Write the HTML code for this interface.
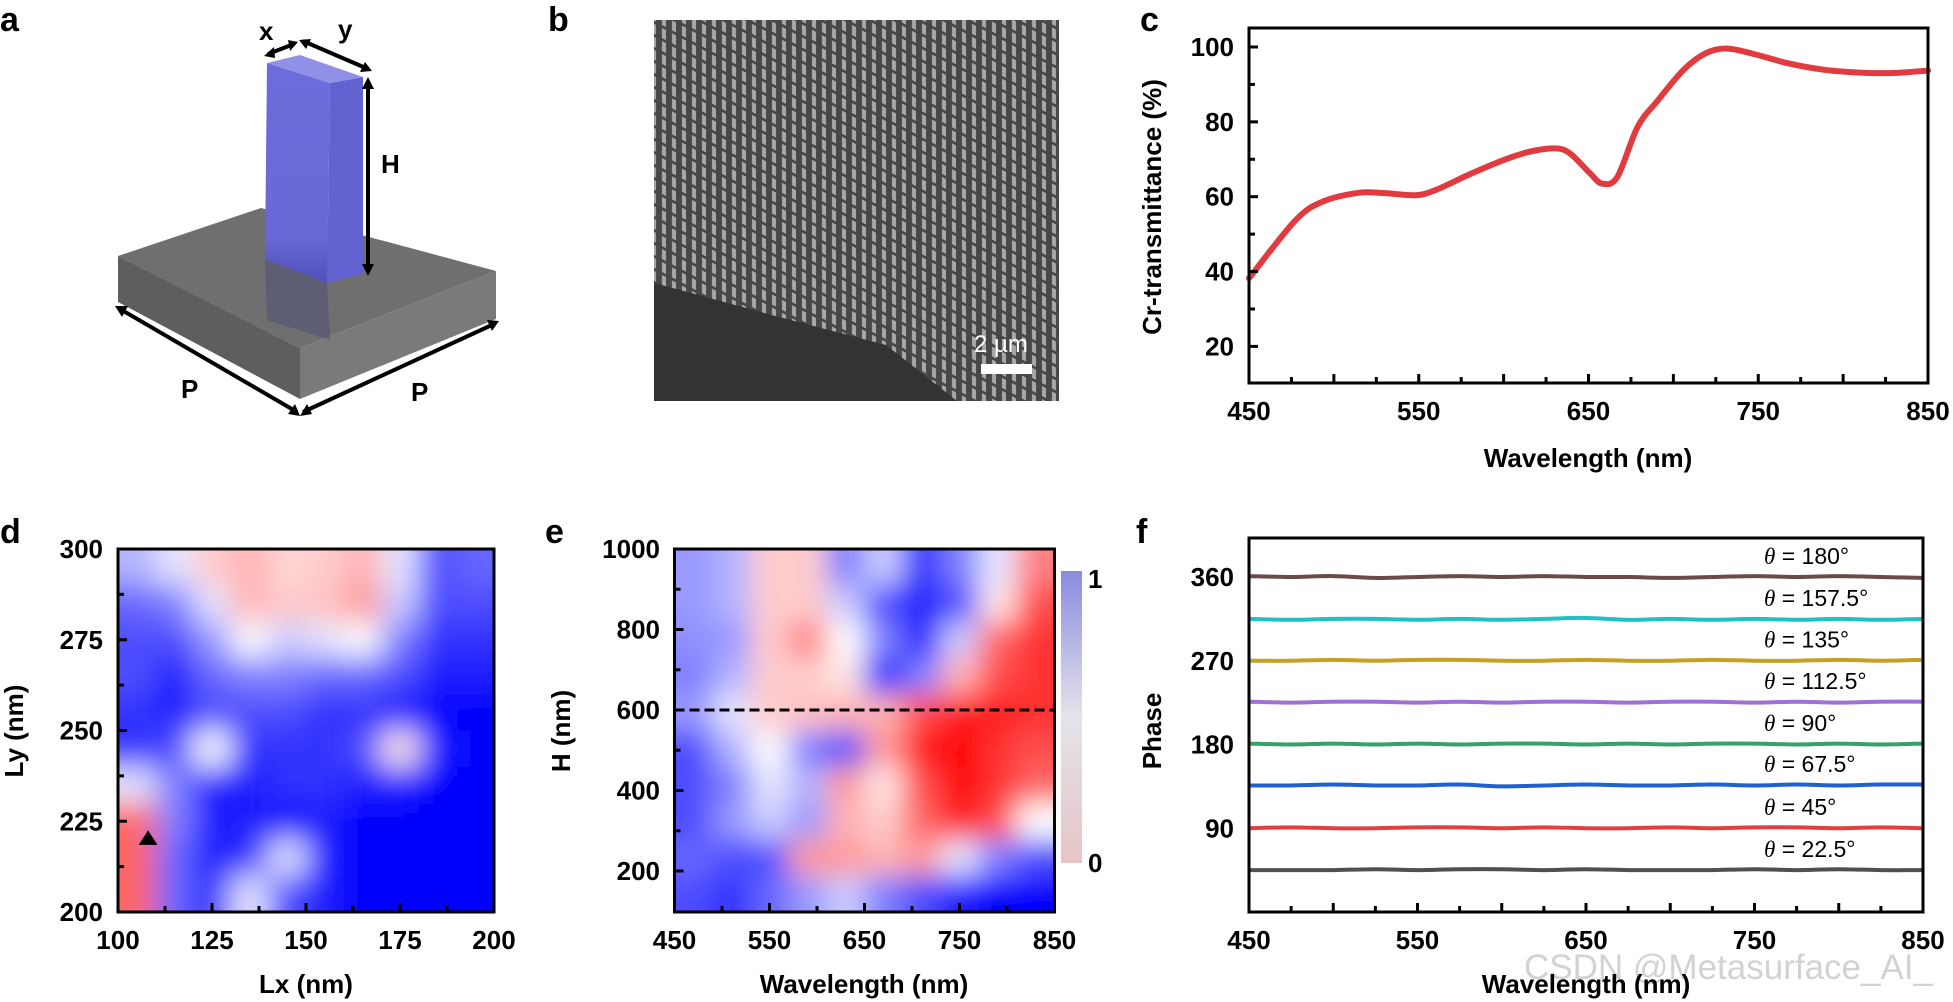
<!DOCTYPE html>
<html><head><meta charset="utf-8">
<style>
html,body{margin:0;padding:0;background:#fff;}
svg{display:block;font-family:"Liberation Sans",Arial,sans-serif;}
.tk{font-weight:bold;font-size:26px;fill:#000;}
.tt{font-weight:bold;font-size:26px;fill:#000;}
.pl{font-weight:bold;font-size:34px;fill:#000;}
.th{font-size:23px;fill:#000;}
</style></head>
<body>
<svg id="fig" width="1953" height="1002" viewBox="0 0 1953 1002" xmlns="http://www.w3.org/2000/svg">
<defs>
  <pattern id="semPat" patternUnits="userSpaceOnUse" width="10" height="13" patternTransform="skewY(28)">
    <rect width="10" height="13" fill="#474747"/>
    <rect x="2" y="1" width="4" height="10" fill="#a9a9a9"/>
  </pattern>
  <linearGradient id="cbGrad" x1="0" y1="1" x2="0" y2="0">
    <stop offset="0" stop-color="#e6c4c6"/>
    <stop offset="0.5" stop-color="#e4e4ea"/>
    <stop offset="1" stop-color="#8a8ae0"/>
  </linearGradient>
  <linearGradient id="pilGrad" x1="0" y1="0" x2="0" y2="1">
    <stop offset="0" stop-color="#6c6cdc"/>
    <stop offset="0.8" stop-color="#6868d6"/>
    <stop offset="1" stop-color="#5050b8"/>
  </linearGradient>
  <filter id="blurD" x="-10%" y="-10%" width="120%" height="120%"><feGaussianBlur stdDeviation="15"/></filter>
  <filter id="blurE" x="-10%" y="-10%" width="120%" height="120%"><feGaussianBlur stdDeviation="14"/></filter>
  <clipPath id="clipD"><rect x="118" y="549" width="376" height="363"/></clipPath>
  <clipPath id="clipE"><rect x="674.5" y="549" width="380" height="363"/></clipPath>
</defs>

<!-- Panel a -->
<g>
  <text class="pl" x="0" y="31">a</text>
  <polygon points="118,256 261,208 496,271 300,348" fill="#6f6f6f"/>
  <polygon points="118,256 300,348 300,399 118,302" fill="#5e5e5e"/>
  <polygon points="300,348 496,271 496,319 300,399" fill="#7a7a7a"/>
  <polygon points="265,259 327,283 330,340 267,320" fill="#555575" opacity="0.7"/>
  <polygon points="267,63 330,83 327,283 265,259" fill="url(#pilGrad)"/>
  <polygon points="330,83 363,77 363,274 327,283" fill="#6262d0"/>
  <polygon points="267,63 300,55 363,77 330,83" fill="#9090e6"/>
  <g stroke="#000" stroke-width="4" fill="none">
    <line x1="268" y1="54" x2="294" y2="44"/>
    <line x1="303" y1="41" x2="368" y2="69"/>
    <line x1="368" y1="82" x2="368" y2="270"/>
    <line x1="120" y1="309" x2="297" y2="412"/>
    <line x1="303" y1="412" x2="494" y2="324"/>
  </g>
  <g fill="#000">
    <polygon points="264,56 274,47 275,58"/><polygon points="298,42 288,40 290,51"/>
    <polygon points="299,40 311,39 306,49"/><polygon points="372,71 360,72 365,62"/>
    <polygon points="368,77 362,89 374,89"/><polygon points="368,276 362,264 374,264"/>
    <polygon points="115,306 128,306 122,317"/><polygon points="300,416 288,414 295,404"/>
    <polygon points="300,416 307,404 312,414"/><polygon points="499,321 487,320 492,331"/>
  </g>
  <text class="tt" x="259" y="40">x</text>
  <text class="tt" x="338" y="38">y</text>
  <text class="tt" x="381" y="173">H</text>
  <text class="tt" x="181" y="398">P</text>
  <text class="tt" x="411" y="401">P</text>
</g>

<!-- Panel b -->
<g>
  <text class="pl" x="548" y="31">b</text>
  <rect x="654" y="20" width="405" height="381" fill="url(#semPat)"/>
  <polygon points="654,283 779,317 886,345 957,401 654,401" fill="#333"/>
  <text x="974" y="352" font-size="24" fill="#fff">2 µm</text>
  <rect x="981" y="364" width="51" height="10" fill="#fff"/>
</g>

<!-- Panel c -->
<g id="panelC">
  <text class="pl" x="1140" y="31">c</text>
  <text class="tt" transform="translate(1161,207) rotate(-90)" text-anchor="middle">Cr-transmittance (%)</text>
  <text class="tt" x="1588" y="467" text-anchor="middle">Wavelength (nm)</text>
</g>

<!-- Panel d -->
<g id="panelD">
  <text class="pl" x="0" y="543">d</text>
  <text class="tt" transform="translate(23,731) rotate(-90)" text-anchor="middle">Ly (nm)</text>
  <text class="tt" x="306" y="993" text-anchor="middle">Lx (nm)</text>
</g>

<!-- Panel e -->
<g id="panelE">
  <text class="pl" x="545" y="543">e</text>
  <text class="tt" transform="translate(570,731) rotate(-90)" text-anchor="middle">H (nm)</text>
  <text class="tt" x="864" y="993" text-anchor="middle">Wavelength (nm)</text>
  <rect x="1061" y="571" width="21" height="292" fill="url(#cbGrad)"/>
  <text class="tk" x="1088" y="588">1</text>
  <text class="tk" x="1088" y="872">0</text>
</g>

<!-- Panel f -->
<g id="panelF">
  <text class="pl" x="1136" y="543">f</text>
  <text class="tt" transform="translate(1161,731) rotate(-90)" text-anchor="middle">Phase</text>
  <text x="1524" y="979" font-size="35" fill="#d2d2d2">CSDN @Metasurface_AI_</text>
  <text class="tt" x="1586" y="993" text-anchor="middle">Wavelength (nm)</text>
</g>
</svg>

<script>
// ---- Panel c data ----
const cWavelengths = [450,477,493,514,529,548,560,581,600,615,630,639,651,658,667,679,691,706,719,731,746,768,789,813,832,850];
const cTransmittance = [38.2,53.5,58.6,61.0,61.0,60.4,61.8,66.2,69.8,72.0,72.9,71.6,66.2,63.5,65.3,78.7,85.8,93.9,98.3,99.6,98.3,95.6,93.9,93.1,93.1,93.7];
const cYTicks = [20,40,60,80,100];
const cXTicks = [450,550,650,750,850];

// ---- Panel d data (rows top Ly=300 -> bottom Ly=200; cols Lx=100 -> 200); 1 = blue, 0 = red ----
const dRow0 = [0.65,0.55,0.40,0.35,0.42,0.40,0.35,0.55,0.85,0.80];
const dRow1 = [0.80,0.75,0.55,0.35,0.40,0.38,0.30,0.60,0.85,0.85];
const dRow2 = [0.85,0.85,0.70,0.50,0.60,0.55,0.50,0.75,0.90,0.90];
const dRow3 = [0.85,0.95,0.80,0.75,0.75,0.80,0.80,0.85,0.95,0.95];
const dRow4 = [0.90,0.95,0.85,0.85,0.85,0.90,0.90,0.95,1.00,1.00];
const dRow5 = [0.90,0.85,0.50,0.90,0.90,0.90,0.85,0.45,0.95,1.00];
const dRow6 = [0.55,0.75,0.95,0.95,0.90,0.90,0.95,0.95,1.00,1.00];
const dRow7 = [0.20,0.75,0.95,0.95,1.00,0.95,1.00,1.00,1.00,1.00];
const dRow8 = [0.20,0.80,0.95,0.90,0.55,0.95,1.00,1.00,1.00,1.00];
const dRow9 = [0.20,0.80,0.90,0.55,0.85,0.95,1.00,1.00,1.00,1.00];
const dXTicks = [100,125,150,175,200];
const dYTicks = [200,225,250,275,300];

// ---- Panel e data (rows top H=1000 -> bottom; cols 450 -> 850 nm) ----
const eRow0 = [0.70,0.65,0.40,0.40,0.75,0.60,0.90,0.75,0.55,0.25];
const eRow1 = [0.70,0.65,0.40,0.40,0.60,0.85,0.95,0.85,0.45,0.15];
const eRow2 = [0.72,0.70,0.40,0.25,0.50,0.75,0.95,0.60,0.20,0.10];
const eRow3 = [0.75,0.65,0.40,0.40,0.45,0.95,0.75,0.35,0.15,0.10];
const eRow4 = [0.70,0.55,0.40,0.38,0.35,0.35,0.15,0.05,0.05,0.10];
const eRow5 = [0.85,0.65,0.50,0.75,0.85,0.30,0.05,0.00,0.10,0.15];
const eRow6 = [0.85,0.75,0.55,0.65,0.30,0.45,0.15,0.00,0.10,0.20];
const eRow7 = [0.85,0.70,0.60,0.70,0.35,0.40,0.20,0.05,0.15,0.50];
const eRow8 = [0.80,0.85,0.85,0.30,0.30,0.35,0.30,0.55,0.75,0.85];
const eRow9 = [0.85,0.90,0.80,0.70,0.60,0.75,0.85,0.95,1.00,1.00];
const eXTicks = [450,550,650,750,850];
const eYTicks = [200,400,600,800,1000];
const eDashedH = 600;

// ---- Panel f data ----
const fWavelengths = [450,475,500,525,550,575,600,625,650,675,700,725,750,775,800,825,850];
const fTheta180  = [361,360,361,359,360,361,360,361,360,360,359,360,361,360,361,360,359];
const fTheta1575 = [315,314,315,315,314,315,314,315,316,314,315,314,315,314,315,314,315];
const fTheta135  = [270,270,271,270,271,271,270,270,271,270,270,271,270,270,271,270,271];
const fTheta1125 = [226,225,226,226,225,226,225,226,226,225,226,226,225,226,225,226,226];
const fTheta90   = [181,180,181,180,181,180,181,181,180,181,180,181,181,180,181,180,181];
const fTheta675  = [136,136,137,136,136,137,135,136,137,136,136,137,136,137,136,137,137];
const fTheta45   = [90,91,90,90,91,91,90,91,90,90,91,90,91,91,90,91,90];
const fTheta225  = [45,45,45,46,45,46,46,45,46,45,45,45,46,45,46,45,45];
const fYTicks = [90,180,270,360];
const fXTicks = [450,550,650,750,850];
const fThetaLabels = ["180°","157.5°","135°","112.5°","90°","67.5°","45°","22.5°"];
const fColors = ["#6a4a4a","#20c0c8","#c8a020","#a070d8","#38a068","#2060d0","#e04040","#505050"];

const NS = "http://www.w3.org/2000/svg";
function mk(parent, tag, attrs) {
  const e = document.createElementNS(NS, tag);
  for (const k in attrs) e.setAttribute(k, attrs[k]);
  parent.appendChild(e);
  return e;
}
function lin(d0, d1, r0, r1) { return v => r0 + (v - d0) / (d1 - d0) * (r1 - r0); }
function cmap(v) {
  v = Math.max(0, Math.min(1, v));
  if (v < 0.5) { const t = v / 0.5; const g = Math.round(255 * t); return `rgb(255,${g},${g})`; }
  const t = (1 - v) / 0.5; const g = Math.round(255 * t); return `rgb(${g},${g},255)`;
}
function smoothPath(pts) {
  let d = `M${pts[0][0]},${pts[0][1]}`;
  for (let i = 0; i < pts.length - 1; i++) {
    const p0 = pts[Math.max(0, i - 1)], p1 = pts[i], p2 = pts[i + 1], p3 = pts[Math.min(pts.length - 1, i + 2)];
    const c1x = p1[0] + (p2[0] - p0[0]) / 6, c1y = p1[1] + (p2[1] - p0[1]) / 6;
    const c2x = p2[0] - (p3[0] - p1[0]) / 6, c2y = p2[1] - (p3[1] - p1[1]) / 6;
    d += ` C${c1x},${c1y} ${c2x},${c2y} ${p2[0]},${p2[1]}`;
  }
  return d;
}
function frame(g, x0, y0, x1, y1) {
  const r = mk(g, "rect", {x: x0, y: y0, width: x1 - x0, height: y1 - y0, fill: "none", stroke: "#000", "stroke-width": 3});
  
  
}
function xTicks(g, ticks, minorStep, sx, yb, labelY) {
  const lo = ticks[0], hi = ticks[ticks.length - 1];
  for (let v = lo; v <= hi + 1e-9; v += minorStep) {
    const major = Math.round((v - lo) / minorStep) % 2 === 0;
    const ln = mk(g, "line", {x1: sx(v), x2: sx(v), y1: yb, y2: yb - (major ? 9 : 6), stroke: "#000", "stroke-width": 3});
    
    
  }
  ticks.forEach(t => {
    const tx = mk(g, "text", {x: sx(t), y: labelY, "text-anchor": "middle", class: "tk"});
    tx.textContent = t;
    
    
  });
}
function yTicks(g, ticks, minorStep, sy, xl, labelX, minorLo, minorHi) {
  for (let v = minorLo; v <= minorHi + 1e-9; v += minorStep) {
    const major = ticks.some(t => Math.abs(t - v) < 1e-9);
    const ln = mk(g, "line", {x1: xl, x2: xl + (major ? 9 : 6), y1: sy(v), y2: sy(v), stroke: "#000", "stroke-width": 3});
    
    
  }
  ticks.forEach(t => {
    const tx = mk(g, "text", {x: labelX, y: sy(t) + 9, "text-anchor": "end", class: "tk"});
    tx.textContent = t;
    
    
  });
}
function heatmap(g, rows, x0, y0, x1, y1, clipId, filterId) {
  const nR = rows.length, nC = rows[0].length;
  const cw = (x1 - x0) / nC, ch = (y1 - y0) / nR, pad = 50;
  const outer = mk(g, "g", {"clip-path": `url(#${clipId})`});
  
  
  const inner = mk(outer, "g", {filter: `url(#${filterId})`});
  rows.forEach((row, r) => row.forEach((v, c) => {
    let rx = x0 + c * cw, ry = y0 + r * ch, rw = cw + 0.5, rh = ch + 0.5;
    if (c === 0) { rx -= pad; rw += pad; }
    if (c === nC - 1) rw += pad;
    if (r === 0) { ry -= pad; rh += pad; }
    if (r === nR - 1) rh += pad;
    const cell = mk(inner, "rect", {x: rx, y: ry, width: rw, height: rh, fill: cmap(v)});
    
    
  }));
}

// ---- Draw panel c ----
(function () {
  const g = document.getElementById("panelC");
  const X0 = 1249, X1 = 1928, Y0 = 28, Y1 = 383;
  const sx = lin(450, 850, X0, X1), sy = lin(100, 20, 47, 346.4);
  const pts = cWavelengths.map((w, i) => [sx(w), sy(cTransmittance[i])]);
  const p = mk(g, "path", {d: smoothPath(pts), fill: "none", stroke: "#e23b3f", "stroke-width": 6, "stroke-linecap": "round"});
  
  
  frame(g, X0, Y0, X1, Y1);
  xTicks(g, cXTicks, 25, sx, Y1, 420);
  yTicks(g, cYTicks, 10, sy, X0, 1234, 20, 100);
})();

// ---- Draw panel d ----
(function () {
  const g = document.getElementById("panelD");
  const X0 = 118, X1 = 494, Y0 = 549, Y1 = 912;
  const rows = [dRow0,dRow1,dRow2,dRow3,dRow4,dRow5,dRow6,dRow7,dRow8,dRow9];
  heatmap(g, rows, X0, Y0, X1, Y1, "clipD", "blurD");
  const sx = lin(100, 200, X0, X1), sy = lin(200, 300, Y1, Y0);
  const tri = mk(g, "polygon", {points: `${sx(108)},${sy(222.5)} ${sx(105.5)},${sy(218.5)} ${sx(110.5)},${sy(218.5)}`, fill: "#000"});
  
  
  frame(g, X0, Y0, X1, Y1);
  xTicks(g, dXTicks, 12.5, sx, Y1, 949);
  yTicks(g, dYTicks, 12.5, sy, X0, 103, 200, 300);
})();

// ---- Draw panel e ----
(function () {
  const g = document.getElementById("panelE");
  const X0 = 674.5, X1 = 1054.5, Y0 = 549, Y1 = 912;
  const rows = [eRow0,eRow1,eRow2,eRow3,eRow4,eRow5,eRow6,eRow7,eRow8,eRow9];
  heatmap(g, rows, X0, Y0, X1, Y1, "clipE", "blurE");
  const sx = lin(450, 850, X0, X1), sy = lin(1000, 200, Y0, 871);
  const dl = mk(g, "line", {x1: X0, x2: X1, y1: sy(eDashedH), y2: sy(eDashedH), stroke: "#000", "stroke-width": 3, "stroke-dasharray": "10 5"});
  
  
  frame(g, X0, Y0, X1, Y1);
  xTicks(g, eXTicks, 50, sx, Y1, 949);
  yTicks(g, eYTicks, 100, sy, X0, 660, 200, 1000);
})();

// ---- Draw panel f ----
(function () {
  const g = document.getElementById("panelF");
  const X0 = 1249, X1 = 1923, Y0 = 538, Y1 = 912;
  const sx = lin(450, 850, X0, X1), sy = lin(0, 360, Y1, 577);
  const series = [fTheta180,fTheta1575,fTheta135,fTheta1125,fTheta90,fTheta675,fTheta45,fTheta225];
  series.forEach((s, i) => {
    const pts = fWavelengths.map((w, j) => [sx(w), sy(s[j])]);
    const p = mk(g, "path", {d: smoothPath(pts), fill: "none", stroke: fColors[i], "stroke-width": 4});
    
    
    const avg = s.reduce((a, b) => a + b, 0) / s.length;
    const t = mk(g, "text", {x: 1764, y: sy(avg) - 13, class: "th"});
    
    
    const it = mk(t, "tspan", {"font-style": "italic", "font-family": "Liberation Serif, serif"});
    it.textContent = "θ";
    const rest = mk(t, "tspan", {});
    rest.textContent = " = " + fThetaLabels[i];
  });
  frame(g, X0, Y0, X1, Y1);
  xTicks(g, fXTicks, 25, sx, Y1, 949);
  fYTicks.forEach(t => {
    const tx = mk(g, "text", {x: 1234, y: sy(t) + 9, "text-anchor": "end", class: "tk"});
    tx.textContent = t;
    
    
  });
})();
</script>
</body></html>
